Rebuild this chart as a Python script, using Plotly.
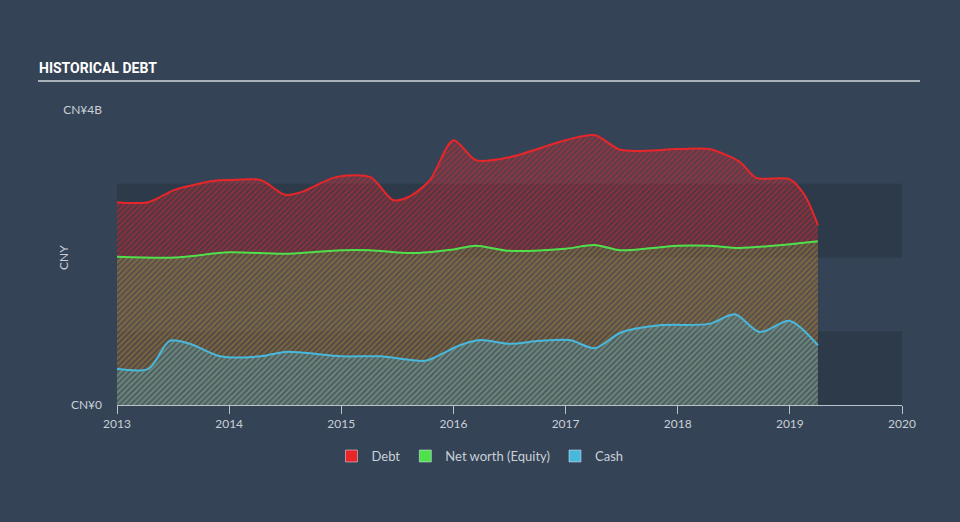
import plotly.graph_objects as go

# ---- data (CNY billions) ----
debt_x = [2013.0, 2013.28, 2013.52, 2013.87, 2014.0, 2014.28, 2014.5, 2014.65, 2014.95, 2015.26,
          2015.46, 2015.6, 2015.79, 2016.0, 2016.2, 2016.5, 2017.0, 2017.26, 2017.49, 2018.0,
          2018.28, 2018.55, 2018.7, 2019.0, 2019.13, 2019.25]
debt_y = [2.75, 2.75, 2.92, 3.04, 3.05, 3.05, 2.85, 2.89, 3.09, 3.09,
          2.78, 2.82, 3.05, 3.59, 3.32, 3.36, 3.59, 3.66, 3.46, 3.47,
          3.47, 3.30, 3.08, 3.06, 2.85, 2.44]

equity_x = [2013.0, 2013.52, 2014.0, 2014.5, 2015.0, 2015.26, 2015.62, 2016.0, 2016.2, 2016.5,
            2017.0, 2017.26, 2017.49, 2018.0, 2018.28, 2018.55, 2019.0, 2019.25]
equity_y = [2.01, 2.00, 2.07, 2.05, 2.10, 2.10, 2.06, 2.11, 2.16, 2.09,
            2.12, 2.17, 2.10, 2.16, 2.16, 2.13, 2.18, 2.22]

cash_x = [2013.0, 2013.28, 2013.47, 2013.65, 2013.92, 2014.28, 2014.5, 2015.0, 2015.35, 2015.75,
          2015.88, 2016.06, 2016.24, 2016.5, 2016.77, 2017.04, 2017.26, 2017.49, 2017.84, 2018.28,
          2018.51, 2018.73, 2019.0, 2019.25]
cash_y = [0.49, 0.49, 0.87, 0.83, 0.66, 0.66, 0.72, 0.66, 0.66, 0.60,
          0.68, 0.81, 0.88, 0.83, 0.87, 0.88, 0.77, 0.98, 1.08, 1.10,
          1.23, 0.99, 1.14, 0.81]

year_ticks = [2013, 2014, 2015, 2016, 2017, 2018, 2019, 2020]
y_tickvals = [0, 4]
y_ticktext = ["CN¥0", "CN¥4B"]

series_names = ["Debt", "Net worth (Equity)", "Cash"]
series_colors = ["#e8262a", "#4fe14b", "#48b8dc"]

BG = "#344355"
BAND = "#2c3a4a"
TXT = "#c9d0d8"
FONT = "Lato"

fig = go.Figure()

def area(x, y, color, rgb, fga, bga):
    fig.add_trace(go.Scatter(
        x=x, y=y, mode="lines", fill="tozeroy",
        line=dict(color=color, width=2, shape="spline", smoothing=0.8),
        fillcolor="rgba(%d,%d,%d,%.2f)" % (rgb + (bga,)),
        fillpattern=dict(shape="/", fgcolor="rgba(%d,%d,%d,%.2f)" % (rgb + (fga,)),
                         bgcolor="rgba(%d,%d,%d,%.2f)" % (rgb + (bga,)), size=4, solidity=0.5),
        showlegend=False, hoverinfo="skip"))

area(debt_x, debt_y, series_colors[0], (232, 38, 42), 0.80, 0.18)
area(equity_x, equity_y, series_colors[1], (79, 225, 75), 0.45, 0.10)
area(cash_x, cash_y, series_colors[2], (72, 184, 220), 0.60, 0.15)

for n, c in zip(series_names, series_colors):
    fig.add_trace(go.Bar(x=[None], y=[None], name=n, marker=dict(color=c), showlegend=True))

# background bands
for y0, y1 in [(0, 1), (2, 3)]:
    fig.add_shape(type="rect", xref="x", yref="y", x0=2013, x1=2020, y0=y0, y1=y1,
                  fillcolor=BAND, line=dict(width=0), layer="below")

# title + rule
fig.add_annotation(xref="paper", yref="paper", x=(37 - 117) / 785, y=(405 - 68) / 295,
                   text="<b>HISTORICAL DEBT</b>", showarrow=False, xanchor="left", yanchor="middle",
                   font=dict(family="Roboto", size=14, color="#ffffff"))
fig.add_shape(type="line", xref="paper", yref="paper", x0=(38 - 117) / 785, x1=(920 - 117) / 785,
              y0=(405 - 81) / 295, y1=(405 - 81) / 295, line=dict(color="#a9b1ba", width=2))
fig.add_annotation(xref="paper", yref="paper", x=(63 - 117) / 785, y=(405 - 258) / 295,
                   text="CNY", showarrow=False, textangle=-90, xanchor="center", yanchor="middle",
                   font=dict(family=FONT, size=12, color=TXT))

fig.update_layout(
    width=960, height=522,
    paper_bgcolor=BG, plot_bgcolor=BG,
    margin=dict(l=117, r=58, t=110, b=117),
    font=dict(family=FONT, size=12, color=TXT),
    showlegend=True,
    legend=dict(orientation="h", x=0.4624, xanchor="center", y=-0.173, yanchor="middle",
                font=dict(family=FONT, size=13, color=TXT), bgcolor="rgba(0,0,0,0)",
                itemwidth=30, traceorder="normal"),
    xaxis=dict(range=[2013, 2020], tickvals=year_ticks, ticktext=[str(v) for v in year_ticks],
               showgrid=False, zeroline=False, showline=True, linecolor="#b8c2cc", linewidth=1,
               ticks="outside", ticklen=8, tickcolor="#b8c2cc", tickfont=dict(size=12, color=TXT)),
    yaxis=dict(range=[0, 4], tickvals=y_tickvals, ticktext=y_ticktext, showgrid=False,
               zeroline=False, showline=False, ticks="", ticklabelstandoff=14,
               tickfont=dict(size=12, color=TXT)),
)

fig.write_html("out.html")
